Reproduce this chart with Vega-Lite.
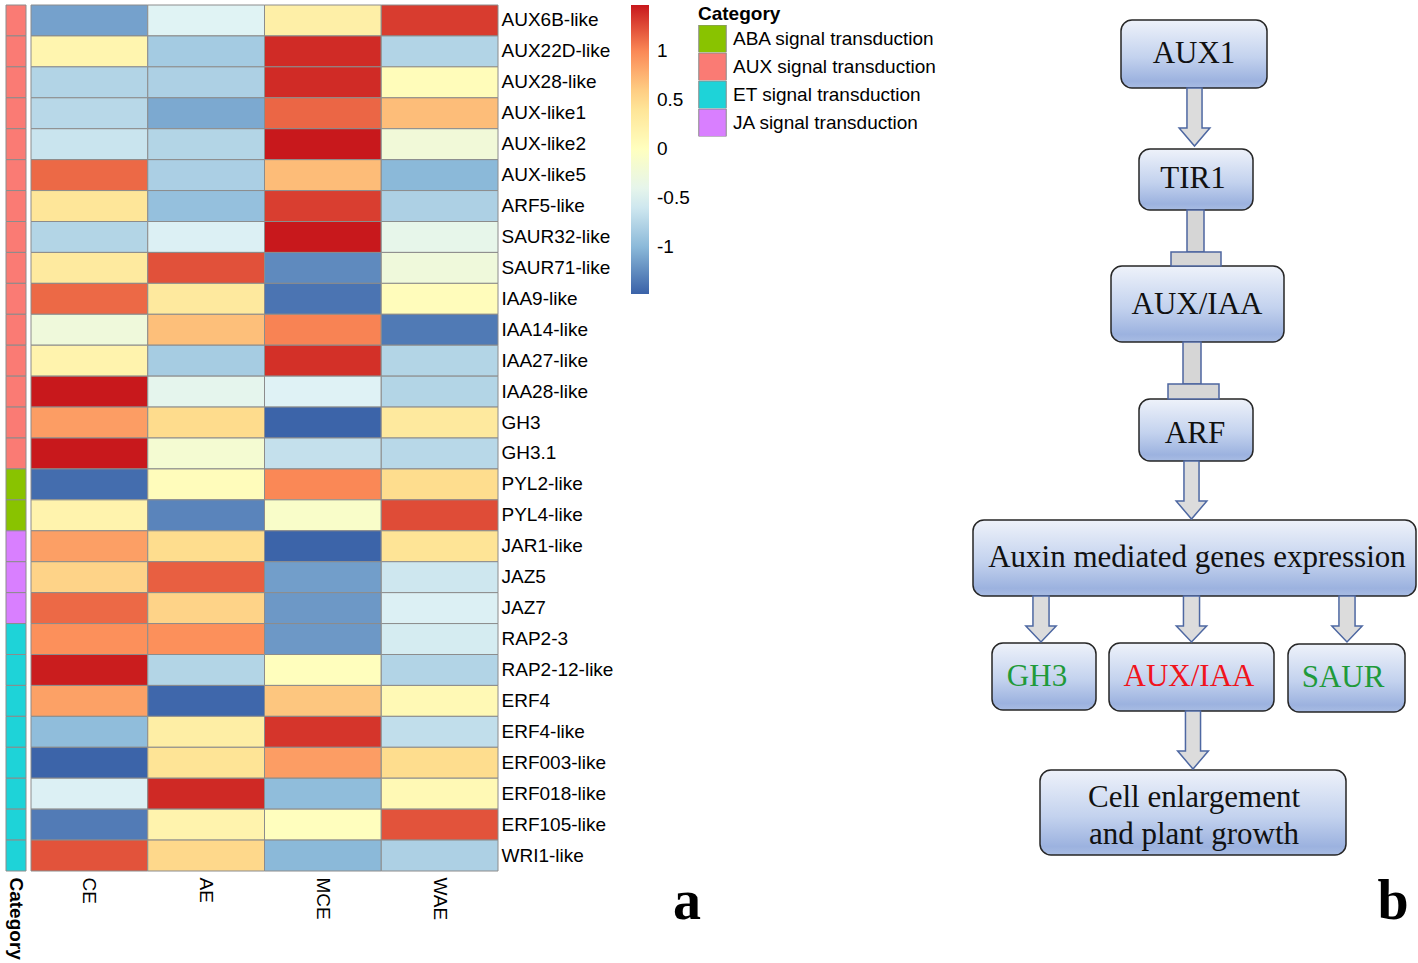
{
  "$schema": "https://vega.github.io/schema/vega-lite/v6.json",
  "padding": {"left": 5, "top": 4, "right": 0, "bottom": 0},
  "background": "white",
  "spacing": 5,
  "bounds": "flush",
  "config": {
    "view": {"stroke": null},
    "font": "Liberation Sans",
    "axis": {"labelColor": "#000000", "labelFont": "Liberation Sans"},
    "legend": {"labelColor": "#000000", "titleColor": "#000000", "labelFont": "Liberation Sans", "titleFont": "Liberation Sans"}
  },
  "resolve": {"scale": {"color": "independent", "fill": "independent"}},
  "datasets": {
    "genes": [
      {"gene": "AUX6B-like", "category": "AUX signal transduction"},
      {"gene": "AUX22D-like", "category": "AUX signal transduction"},
      {"gene": "AUX28-like", "category": "AUX signal transduction"},
      {"gene": "AUX-like1", "category": "AUX signal transduction"},
      {"gene": "AUX-like2", "category": "AUX signal transduction"},
      {"gene": "AUX-like5", "category": "AUX signal transduction"},
      {"gene": "ARF5-like", "category": "AUX signal transduction"},
      {"gene": "SAUR32-like", "category": "AUX signal transduction"},
      {"gene": "SAUR71-like", "category": "AUX signal transduction"},
      {"gene": "IAA9-like", "category": "AUX signal transduction"},
      {"gene": "IAA14-like", "category": "AUX signal transduction"},
      {"gene": "IAA27-like", "category": "AUX signal transduction"},
      {"gene": "IAA28-like", "category": "AUX signal transduction"},
      {"gene": "GH3", "category": "AUX signal transduction"},
      {"gene": "GH3.1", "category": "AUX signal transduction"},
      {"gene": "PYL2-like", "category": "ABA signal transduction"},
      {"gene": "PYL4-like", "category": "ABA signal transduction"},
      {"gene": "JAR1-like", "category": "JA signal transduction"},
      {"gene": "JAZ5", "category": "JA signal transduction"},
      {"gene": "JAZ7", "category": "JA signal transduction"},
      {"gene": "RAP2-3", "category": "ET signal transduction"},
      {"gene": "RAP2-12-like", "category": "ET signal transduction"},
      {"gene": "ERF4", "category": "ET signal transduction"},
      {"gene": "ERF4-like", "category": "ET signal transduction"},
      {"gene": "ERF003-like", "category": "ET signal transduction"},
      {"gene": "ERF018-like", "category": "ET signal transduction"},
      {"gene": "ERF105-like", "category": "ET signal transduction"},
      {"gene": "WRI1-like", "category": "ET signal transduction"}
    ],
    "expr": [
      {"gene": "AUX6B-like", "sample": "CE", "value": -1.13}, {"gene": "AUX6B-like", "sample": "AE", "value": -0.49}, {"gene": "AUX6B-like", "sample": "MCE", "value": 0.25}, {"gene": "AUX6B-like", "sample": "WAE", "value": 1.32},
      {"gene": "AUX22D-like", "sample": "CE", "value": 0.16}, {"gene": "AUX22D-like", "sample": "AE", "value": -0.85}, {"gene": "AUX22D-like", "sample": "MCE", "value": 1.39}, {"gene": "AUX22D-like", "sample": "WAE", "value": -0.77},
      {"gene": "AUX28-like", "sample": "CE", "value": -0.77}, {"gene": "AUX28-like", "sample": "AE", "value": -0.8}, {"gene": "AUX28-like", "sample": "MCE", "value": 1.39}, {"gene": "AUX28-like", "sample": "WAE", "value": 0.05},
      {"gene": "AUX-like1", "sample": "CE", "value": -0.73}, {"gene": "AUX-like1", "sample": "AE", "value": -1.09}, {"gene": "AUX-like1", "sample": "MCE", "value": 1.14}, {"gene": "AUX-like1", "sample": "WAE", "value": 0.69},
      {"gene": "AUX-like2", "sample": "CE", "value": -0.63}, {"gene": "AUX-like2", "sample": "AE", "value": -0.76}, {"gene": "AUX-like2", "sample": "MCE", "value": 1.47}, {"gene": "AUX-like2", "sample": "WAE", "value": -0.23},
      {"gene": "AUX-like5", "sample": "CE", "value": 1.13}, {"gene": "AUX-like5", "sample": "AE", "value": -0.81}, {"gene": "AUX-like5", "sample": "MCE", "value": 0.7}, {"gene": "AUX-like5", "sample": "WAE", "value": -1.0},
      {"gene": "ARF5-like", "sample": "CE", "value": 0.39}, {"gene": "ARF5-like", "sample": "AE", "value": -0.94}, {"gene": "ARF5-like", "sample": "MCE", "value": 1.31}, {"gene": "ARF5-like", "sample": "WAE", "value": -0.8},
      {"gene": "SAUR32-like", "sample": "CE", "value": -0.76}, {"gene": "SAUR32-like", "sample": "AE", "value": -0.52}, {"gene": "SAUR32-like", "sample": "MCE", "value": 1.47}, {"gene": "SAUR32-like", "sample": "WAE", "value": -0.39},
      {"gene": "SAUR71-like", "sample": "CE", "value": 0.33}, {"gene": "SAUR71-like", "sample": "AE", "value": 1.23}, {"gene": "SAUR71-like", "sample": "MCE", "value": -1.26}, {"gene": "SAUR71-like", "sample": "WAE", "value": -0.26},
      {"gene": "IAA9-like", "sample": "CE", "value": 1.13}, {"gene": "IAA9-like", "sample": "AE", "value": 0.34}, {"gene": "IAA9-like", "sample": "MCE", "value": -1.38}, {"gene": "IAA9-like", "sample": "WAE", "value": 0.04},
      {"gene": "IAA14-like", "sample": "CE", "value": -0.26}, {"gene": "IAA14-like", "sample": "AE", "value": 0.68}, {"gene": "IAA14-like", "sample": "MCE", "value": 1.02}, {"gene": "IAA14-like", "sample": "WAE", "value": -1.35},
      {"gene": "IAA27-like", "sample": "CE", "value": 0.19}, {"gene": "IAA27-like", "sample": "AE", "value": -0.84}, {"gene": "IAA27-like", "sample": "MCE", "value": 1.37}, {"gene": "IAA27-like", "sample": "WAE", "value": -0.76},
      {"gene": "IAA28-like", "sample": "CE", "value": 1.47}, {"gene": "IAA28-like", "sample": "AE", "value": -0.42}, {"gene": "IAA28-like", "sample": "MCE", "value": -0.5}, {"gene": "IAA28-like", "sample": "WAE", "value": -0.76},
      {"gene": "GH3", "sample": "CE", "value": 0.88}, {"gene": "GH3", "sample": "AE", "value": 0.51}, {"gene": "GH3", "sample": "MCE", "value": -1.47}, {"gene": "GH3", "sample": "WAE", "value": 0.34},
      {"gene": "GH3.1", "sample": "CE", "value": 1.47}, {"gene": "GH3.1", "sample": "AE", "value": -0.17}, {"gene": "GH3.1", "sample": "MCE", "value": -0.66}, {"gene": "GH3.1", "sample": "WAE", "value": -0.73},
      {"gene": "PYL2-like", "sample": "CE", "value": -1.42}, {"gene": "PYL2-like", "sample": "AE", "value": 0.04}, {"gene": "PYL2-like", "sample": "MCE", "value": 1.0}, {"gene": "PYL2-like", "sample": "WAE", "value": 0.5},
      {"gene": "PYL4-like", "sample": "CE", "value": 0.19}, {"gene": "PYL4-like", "sample": "AE", "value": -1.29}, {"gene": "PYL4-like", "sample": "MCE", "value": -0.09}, {"gene": "PYL4-like", "sample": "WAE", "value": 1.25},
      {"gene": "JAR1-like", "sample": "CE", "value": 0.87}, {"gene": "JAR1-like", "sample": "AE", "value": 0.5}, {"gene": "JAR1-like", "sample": "MCE", "value": -1.47}, {"gene": "JAR1-like", "sample": "WAE", "value": 0.42},
      {"gene": "JAZ5", "sample": "CE", "value": 0.56}, {"gene": "JAZ5", "sample": "AE", "value": 1.17}, {"gene": "JAZ5", "sample": "MCE", "value": -1.15}, {"gene": "JAZ5", "sample": "WAE", "value": -0.6},
      {"gene": "JAZ7", "sample": "CE", "value": 1.13}, {"gene": "JAZ7", "sample": "AE", "value": 0.56}, {"gene": "JAZ7", "sample": "MCE", "value": -1.18}, {"gene": "JAZ7", "sample": "WAE", "value": -0.52},
      {"gene": "RAP2-3", "sample": "CE", "value": 0.96}, {"gene": "RAP2-3", "sample": "AE", "value": 0.96}, {"gene": "RAP2-3", "sample": "MCE", "value": -1.18}, {"gene": "RAP2-3", "sample": "WAE", "value": -0.56},
      {"gene": "RAP2-12-like", "sample": "CE", "value": 1.45}, {"gene": "RAP2-12-like", "sample": "AE", "value": -0.76}, {"gene": "RAP2-12-like", "sample": "MCE", "value": 0.02}, {"gene": "RAP2-12-like", "sample": "WAE", "value": -0.77},
      {"gene": "ERF4", "sample": "CE", "value": 0.86}, {"gene": "ERF4", "sample": "AE", "value": -1.45}, {"gene": "ERF4", "sample": "MCE", "value": 0.64}, {"gene": "ERF4", "sample": "WAE", "value": 0.1},
      {"gene": "ERF4-like", "sample": "CE", "value": -0.97}, {"gene": "ERF4-like", "sample": "AE", "value": 0.27}, {"gene": "ERF4-like", "sample": "MCE", "value": 1.35}, {"gene": "ERF4-like", "sample": "WAE", "value": -0.68},
      {"gene": "ERF003-like", "sample": "CE", "value": -1.47}, {"gene": "ERF003-like", "sample": "AE", "value": 0.42}, {"gene": "ERF003-like", "sample": "MCE", "value": 0.88}, {"gene": "ERF003-like", "sample": "WAE", "value": 0.5},
      {"gene": "ERF018-like", "sample": "CE", "value": -0.52}, {"gene": "ERF018-like", "sample": "AE", "value": 1.4}, {"gene": "ERF018-like", "sample": "MCE", "value": -0.97}, {"gene": "ERF018-like", "sample": "WAE", "value": 0.1},
      {"gene": "ERF105-like", "sample": "CE", "value": -1.34}, {"gene": "ERF105-like", "sample": "AE", "value": 0.19}, {"gene": "ERF105-like", "sample": "MCE", "value": 0.01}, {"gene": "ERF105-like", "sample": "WAE", "value": 1.22},
      {"gene": "WRI1-like", "sample": "CE", "value": 1.22}, {"gene": "WRI1-like", "sample": "AE", "value": 0.53}, {"gene": "WRI1-like", "sample": "MCE", "value": -1.0}, {"gene": "WRI1-like", "sample": "WAE", "value": -0.8}
    ],
    "boxes": [
      {"node": "AUX1", "x1": 1120, "x2": 1266, "y1": 19, "y2": 87, "tx": 1193, "ty": 53, "label": "AUX1", "tone": "plain"},
      {"node": "TIR1", "x1": 1138, "x2": 1252, "y1": 148, "y2": 209, "tx": 1192, "ty": 178, "label": "TIR1", "tone": "plain"},
      {"node": "AUX/IAA", "x1": 1110, "x2": 1283, "y1": 265, "y2": 341, "tx": 1196, "ty": 304, "label": "AUX/IAA", "tone": "plain"},
      {"node": "ARF", "x1": 1138, "x2": 1252, "y1": 398, "y2": 460, "tx": 1194, "ty": 433, "label": "ARF", "tone": "plain"},
      {"node": "Auxin", "x1": 972, "x2": 1415, "y1": 519, "y2": 595, "tx": 1196, "ty": 557, "label": "Auxin mediated genes expression", "tone": "plain"},
      {"node": "GH3", "x1": 991, "x2": 1095, "y1": 642, "y2": 709, "tx": 1036, "ty": 676, "label": "GH3", "tone": "green"},
      {"node": "AUX/IAA-2", "x1": 1108, "x2": 1273, "y1": 642, "y2": 710, "tx": 1188, "ty": 676, "label": "AUX/IAA", "tone": "red"},
      {"node": "SAUR", "x1": 1287, "x2": 1404, "y1": 643, "y2": 711, "tx": 1342, "ty": 677, "label": "SAUR", "tone": "green"},
      {"node": "Cell", "x1": 1039, "x2": 1345, "y1": 769, "y2": 854, "tx": 1193, "ty": 797, "label": "Cell enlargement\nand plant growth", "tone": "plain"}
    ],
    "arrows": [
      {"from": "AUX1", "to": "TIR1", "x": 1193.5, "y": 116, "len": "long"},
      {"from": "ARF", "to": "Auxin", "x": 1190.5, "y": 489, "len": "long"},
      {"from": "Auxin", "to": "GH3", "x": 1040, "y": 618, "len": "short"},
      {"from": "Auxin", "to": "AUX/IAA-2", "x": 1190.5, "y": 618, "len": "short"},
      {"from": "Auxin", "to": "SAUR", "x": 1346, "y": 618, "len": "short"},
      {"from": "AUX/IAA-2", "to": "Cell", "x": 1192, "y": 739, "len": "long"}
    ],
    "inhib": [
      {"link": "TIR1-AUX/IAA", "part": "shaft", "x1": 1186, "x2": 1203, "y1": 209, "y2": 251},
      {"link": "TIR1-AUX/IAA", "part": "bar", "x1": 1170, "x2": 1220, "y1": 251, "y2": 265},
      {"link": "AUX/IAA-ARF", "part": "shaft", "x1": 1182, "x2": 1200, "y1": 341, "y2": 383},
      {"link": "AUX/IAA-ARF", "part": "bar", "x1": 1167, "x2": 1218, "y1": 383, "y2": 398}
    ],
    "panels": [
      {"x": 686, "y": 918, "label": "a"},
      {"x": 1392, "y": 918, "label": "b"}
    ]
  },
  "hconcat": [
    {
      "width": 20,
      "height": 866,
      "data": {"name": "genes"},
      "mark": {"type": "rect", "stroke": "#8c8c8c", "strokeWidth": 1},
      "encoding": {
        "x": {"datum": "Category", "type": "nominal",
          "scale": {"paddingInner": 0, "paddingOuter": 0},
          "axis": {"title": null, "labelAngle": 90, "labelFontWeight": "bold", "labelFontSize": 19, "ticks": false, "domain": false, "labelPadding": 6}},
        "y": {"field": "gene", "type": "nominal", "sort": null,
          "scale": {"paddingInner": 0, "paddingOuter": 0}, "axis": null},
        "fill": {"field": "category", "type": "nominal",
          "scale": {"domain": ["ABA signal transduction", "AUX signal transduction", "ET signal transduction", "JA signal transduction"],
                    "range": ["#89c300", "#fa7b74", "#1ed3d8", "#d97fff"]},
          "legend": {"orient": "none", "legendX": 692, "legendY": 0, "title": "Category", "titleFontSize": 19, "titleFontWeight": "bold",
            "titlePadding": 1, "padding": 0, "labelFontSize": 19, "labelOffset": 6, "labelLimit": 400,
            "symbolType": "square", "symbolSize": 756, "clipHeight": 27.5,
            "symbolStrokeColor": "#8c8c8c", "symbolStrokeWidth": 1, "symbolOpacity": 1, "rowPadding": 0, "columns": 1}}
      }
    },
    {
      "width": 467,
      "height": 866,
      "data": {"name": "expr"},
      "mark": {"type": "rect", "stroke": "#8c8c8c", "strokeWidth": 1},
      "encoding": {
        "x": {"field": "sample", "type": "nominal", "sort": ["CE", "AE", "MCE", "WAE"],
          "scale": {"paddingInner": 0, "paddingOuter": 0},
          "axis": {"title": null, "orient": "bottom", "labelAngle": 90, "labelFontSize": 19, "ticks": false, "domain": false, "labelPadding": 6}},
        "y": {"field": "gene", "type": "nominal", "sort": null,
          "scale": {"paddingInner": 0, "paddingOuter": 0},
          "axis": {"title": null, "orient": "right", "labelFontSize": 19, "ticks": false, "domain": false, "labelPadding": 3, "labelLimit": 300}},
        "color": {"field": "value", "type": "quantitative",
          "scale": {"domain": [-1.48, -0.988, -0.495, 0, 0.485, 0.978, 1.47],
                    "range": ["#3a62a8", "#8dbbda", "#e0f3f5", "#ffffbf", "#fee090", "#fc8d59", "#c8181c"], "interpolate": "rgb", "zero": false, "nice": false},
          "legend": {"orient": "none", "legendX": 600, "legendY": 0, "title": null, "direction": "vertical", "gradientLength": 289,
            "gradientThickness": 18, "gradientStrokeWidth": 0, "values": [-1, -0.5, 0, 0.5, 1], "labelExpr": "'' + datum.value",
            "labelFontSize": 19, "labelOffset": 8, "labelOverlap": false, "padding": 0}}
      }
    },
    {
      "width": 916,
      "height": 959,
      "layer": [
        {
          "data": {"name": "boxes"},
          "mark": {"type": "rect", "cornerRadius": 11, "stroke": "#262626", "strokeWidth": 1.5,
            "fill": {"gradient": "linear", "x1": 0, "y1": 0, "x2": 0, "y2": 1,
              "stops": [{"offset": 0, "color": "#eef2fa"}, {"offset": 0.55, "color": "#c3d2ee"}, {"offset": 0.9, "color": "#9cb2df"}, {"offset": 1, "color": "#a8bce3"}]}},
          "encoding": {
            "x": {"field": "x1", "type": "quantitative", "scale": {"domain": [502, 1418], "nice": false, "zero": false}, "axis": null},
            "x2": {"field": "x2"},
            "y": {"field": "y1", "type": "quantitative", "scale": {"domain": [4, 963], "nice": false, "zero": false, "reverse": true}, "axis": null},
            "y2": {"field": "y2"}
          }
        },
        {
          "data": {"name": "inhib"},
          "mark": {"type": "rect", "fill": "#d6d6d6", "stroke": "#4d66a0", "strokeWidth": 1.5},
          "encoding": {
            "x": {"field": "x1", "type": "quantitative"},
            "x2": {"field": "x2"},
            "y": {"field": "y1", "type": "quantitative"},
            "y2": {"field": "y2"}
          }
        },
        {
          "data": {"name": "arrows"},
          "transform": [{"filter": "datum.len === 'long'"}],
          "mark": {"type": "point", "filled": true, "fill": "#dcdcdc", "stroke": "#4e68a2", "strokeWidth": 1.5, "opacity": 1,
            "shape": "M-0.26,-1L0.26,-1L0.26,0.38L0.53,0.38L0,1L-0.53,0.38L-0.26,0.38Z", "size": 3364},
          "encoding": {
            "x": {"field": "x", "type": "quantitative"},
            "y": {"field": "y", "type": "quantitative"}
          }
        },
        {
          "data": {"name": "arrows"},
          "transform": [{"filter": "datum.len === 'short'"}],
          "mark": {"type": "point", "filled": true, "fill": "#dcdcdc", "stroke": "#4e68a2", "strokeWidth": 1.5, "opacity": 1,
            "shape": "M-0.35,-1L0.35,-1L0.35,0.3L0.66,0.3L0,1L-0.66,0.3L-0.35,0.3Z", "size": 2116},
          "encoding": {
            "x": {"field": "x", "type": "quantitative"},
            "y": {"field": "y", "type": "quantitative"}
          }
        },
        {
          "data": {"name": "boxes"},
          "mark": {"type": "text", "font": "Liberation Serif", "fontSize": 31, "align": "center", "baseline": "middle", "lineBreak": "\n", "lineHeight": 37},
          "encoding": {
            "x": {"field": "tx", "type": "quantitative"},
            "y": {"field": "ty", "type": "quantitative"},
            "text": {"field": "label"},
            "color": {"field": "tone", "type": "nominal",
              "scale": {"domain": ["plain", "green", "red"], "range": ["#111111", "#1f9a3a", "#f0141c"]}, "legend": null}
          }
        },
        {
          "data": {"name": "panels"},
          "mark": {"type": "text", "font": "Liberation Serif", "fontSize": 56, "fontWeight": "bold", "align": "center", "baseline": "alphabetic", "color": "#000000"},
          "encoding": {
            "x": {"field": "x", "type": "quantitative"},
            "y": {"field": "y", "type": "quantitative"},
            "text": {"field": "label"}
          }
        }
      ]
    }
  ]
}
